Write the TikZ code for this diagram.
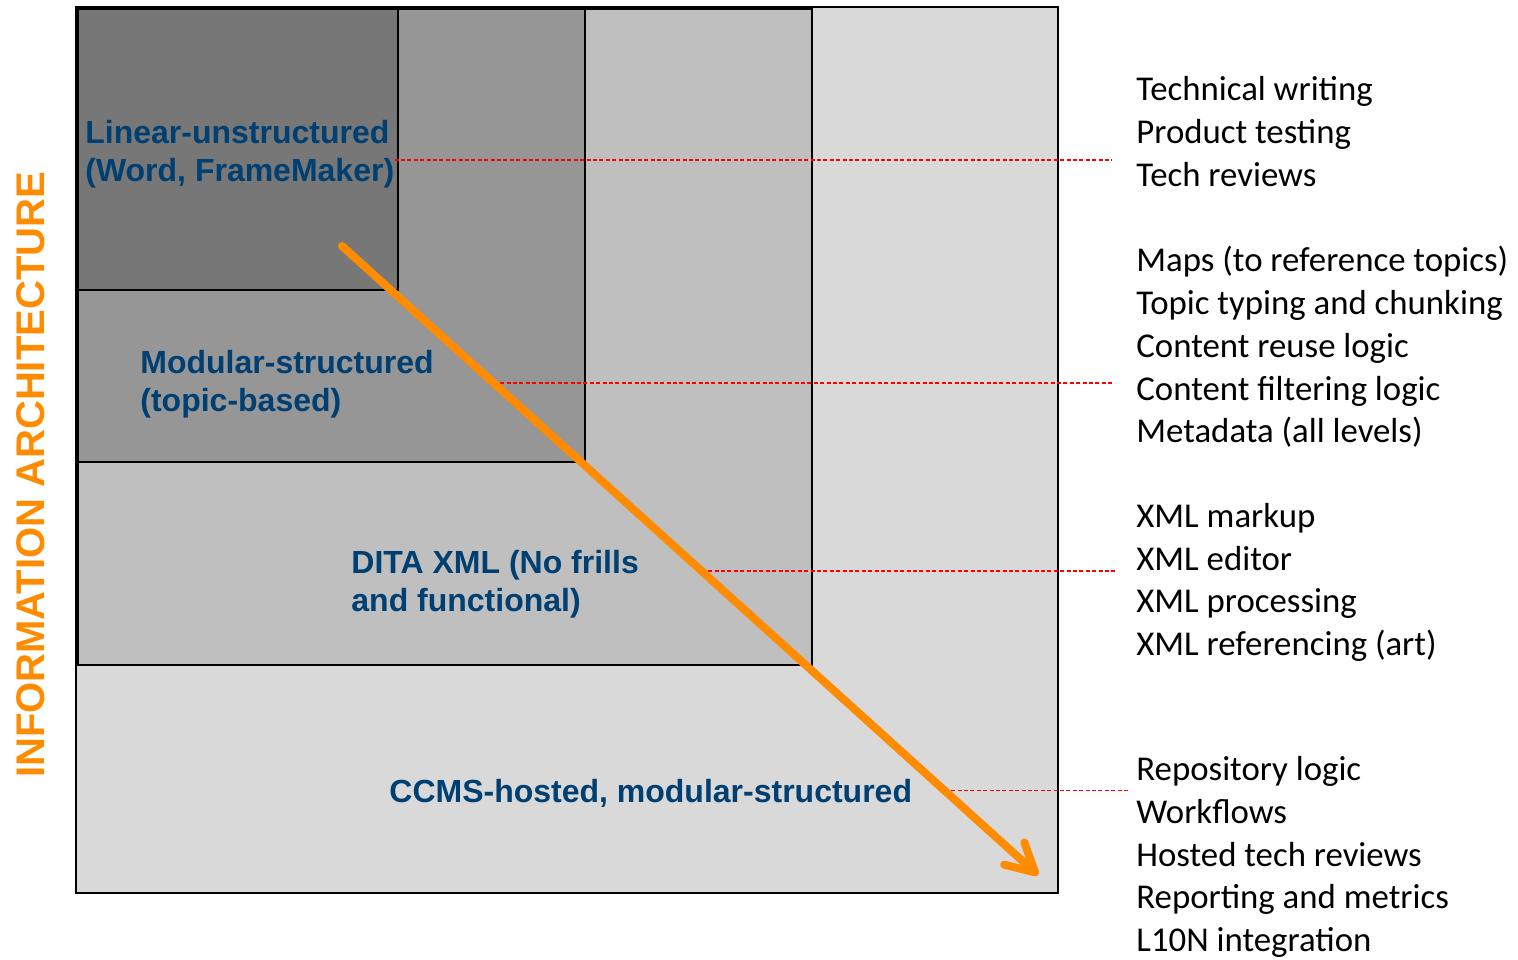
\documentclass[tikz,border=0pt]{standalone}
\usepackage{fontspec}
\setmainfont{Carlito}
\newfontfamily\arialfont{Liberation Sans}
\usetikzlibrary{arrows.meta,positioning,calc}
\definecolor{iaorange}{RGB}{255,140,0}
\definecolor{iablue}{RGB}{0,63,114}
\definecolor{lvlA}{RGB}{119,119,119}
\definecolor{lvlB}{RGB}{150,150,150}
\definecolor{lvlC}{RGB}{191,191,191}
\definecolor{lvlD}{RGB}{217,217,217}
\tikzset{
  stage/.style={font=\arialfont\bfseries\fontsize{16}{19}\selectfont, text=iablue, align=left, inner sep=0pt, anchor=west},
  needs/.style={font=\fontsize{17.4}{21.35}\selectfont, align=left, inner sep=0pt, anchor=west},
  link/.style={red, line width=0.75pt, dash pattern=on 2pt off 1.2pt},
  flow/.style={iaorange, line width=4pt, line cap=round, -{Straight Barb[length=14pt,width=15pt,line cap=round,line join=round]}}
}
\begin{document}
\begin{tikzpicture}[x=0.5pt, y=-0.5pt]
\useasboundingbox (0,0) rectangle (1518,959);
% nested levels, largest first
\draw[fill=lvlD, line width=1pt] (76,7) rectangle (1058,893);
\draw[fill=lvlC, line width=0.75pt] (78,9) rectangle (812,665);
\draw[fill=lvlB, line width=0.75pt] (78,9) rectangle (585,462);
\draw[fill=lvlA, line width=0.75pt] (78,9) rectangle (398,290);
% level names
\node[stage] (lin) at (85,154.5) {Linear-unstructured\\(Word, FrameMaker)};
\node[stage] (mod) at (140,384.5) {Modular-structured\\(topic-based)};
\node[stage] (dita) at (351,584.5) {DITA XML (No frills\\and functional)};
\node[stage] (ccms) at (389,793) {CCMS-hosted, modular-structured};
\node[font=\arialfont\bfseries\fontsize{20}{24}\selectfont, text=iaorange, rotate=90, inner sep=0pt] (axis) at (30.5,475) {INFORMATION ARCHITECTURE};
% what each level asks for
\node[needs] (skA) at (1136,131.5) {Technical writing\\Product testing\\Tech reviews};
\node[needs] (skB) at (1136,347) {Maps (to reference topics)\\Topic typing and chunking\\Content reuse logic\\Content filtering logic\\Metadata (all levels)};
\node[needs] (skC) at (1136,582.5) {XML markup\\XML editor\\XML processing\\XML referencing (art)};
\node[needs] (skD) at (1136,857) {Repository logic\\Workflows\\Hosted tech reviews\\Reporting and metrics\\L10N integration};
% the path through the levels
\coordinate (a0) at (342,246);
\coordinate (a1) at (1038,875);
\path (a0) -- coordinate[pos=0.218] (m2) coordinate[pos=0.517] (m3) coordinate[pos=0.866] (m4) (a1);
\coordinate (eA) at (1112,160);
\draw[link] (lin.east |- eA) -- (eA);
\draw[link] (m2) -- ([xshift=-12pt]skB.west |- m2);
\draw[link] (m3) -- ([xshift=-10.5pt]skC.west |- m3);
\draw[link] (m4) -- ([xshift=-3pt]skD.west |- m4);
\draw[flow] (a0) -- (a1);
\end{tikzpicture}
\end{document}
